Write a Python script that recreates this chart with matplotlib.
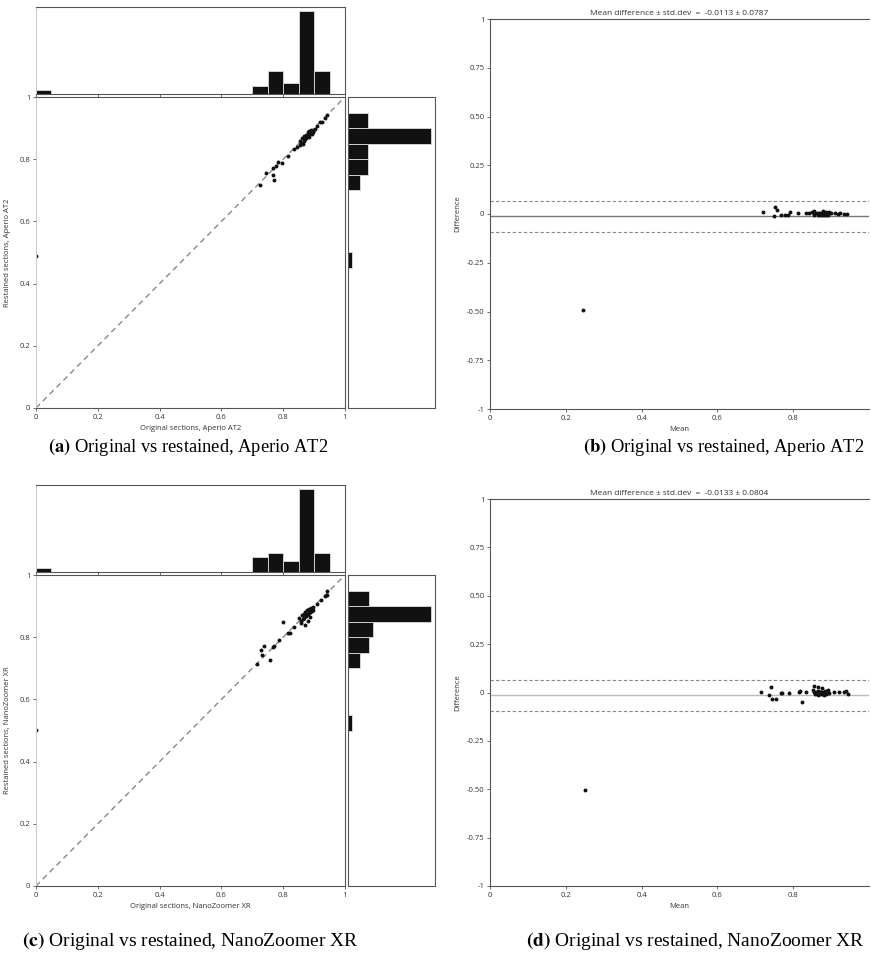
import numpy as np
import matplotlib
matplotlib.use("Agg")
import matplotlib.pyplot as plt

plt.rcParams['font.family'] = ['Open Sans', 'DejaVu Sans']
plt.rcParams['mathtext.fontset'] = 'stix'

# original (x) vs restained (y) scores, Aperio AT2
aperio_orig = [0.0, 0.724, 0.745, 0.770, 0.768, 0.766, 0.776, 0.784, 0.797,
               0.815, 0.836, 0.846, 0.855, 0.864,
               0.853, 0.858, 0.862, 0.866, 0.868, 0.871, 0.873, 0.875, 0.877, 0.879,
               0.880, 0.882, 0.884, 0.885, 0.887, 0.889, 0.891, 0.893, 0.895, 0.898,
               0.904, 0.911, 0.918, 0.926, 0.936, 0.943]
aperio_rest = [0.49, 0.716, 0.756, 0.732, 0.748, 0.772, 0.779, 0.790, 0.787,
               0.811, 0.833, 0.840, 0.846, 0.848,
               0.858, 0.852, 0.867, 0.859, 0.874, 0.864, 0.879, 0.869, 0.873, 0.886,
               0.875, 0.879, 0.890, 0.872, 0.883, 0.893, 0.886, 0.881, 0.892, 0.889,
               0.897, 0.908, 0.920, 0.921, 0.934, 0.942]

# original (x) vs restained (y) scores, NanoZoomer XR
nano_orig = [0.0, 0.716, 0.727, 0.730, 0.738, 0.757, 0.766, 0.770, 0.788, 0.798,
             0.817, 0.821, 0.836, 0.872, 0.858,
             0.852, 0.856, 0.860, 0.863, 0.866, 0.868, 0.870, 0.873, 0.875, 0.877,
             0.879, 0.880, 0.882, 0.884, 0.886, 0.888, 0.890, 0.892, 0.895, 0.898,
             0.908, 0.922, 0.935, 0.943, 0.941]
nano_rest = [0.502, 0.715, 0.759, 0.744, 0.772, 0.727, 0.770, 0.773, 0.790, 0.849,
             0.812, 0.815, 0.833, 0.839, 0.846,
             0.861, 0.852, 0.871, 0.858, 0.876, 0.862, 0.880, 0.868, 0.872, 0.888,
             0.874, 0.851, 0.878, 0.890, 0.864, 0.882, 0.893, 0.884, 0.896, 0.887,
             0.906, 0.919, 0.931, 0.936, 0.947]

mean_diff = [-0.0113, -0.0133]
sd_diff = [0.0787, 0.0804]
scanners = ['Aperio AT2', 'NanoZoomer XR']
captions = ['(a)', '(b)', '(c)', '(d)']

W, H = 871, 956
fig = plt.figure(figsize=(W / 100, H / 100), dpi=100)


def rect(x0, y0, x1, y1):
    return [x0 / W, 1 - y1 / H, (x1 - x0) / W, (y1 - y0) / H]


def style_spines(ax, left='#cccccc'):
    for s in ax.spines.values():
        s.set_color('#555555')
        s.set_linewidth(0.8)
    ax.spines['left'].set_color(left)
    ax.tick_params(colors='#555555', labelcolor='#333333', labelsize=5.5,
                   length=2, width=0.6, pad=2)


bins = np.linspace(0, 1, 21)
ticks = [0, 0.2, 0.4, 0.6, 0.8, 1]
tick_lbl = ['0', '0.2', '0.4', '0.6', '0.8', '1']


def joint_panel(x, y, top, name):
    ax_top = fig.add_axes(rect(36, top, 345, top + 87))
    ax = fig.add_axes(rect(36, top + 90, 345, top + 401))
    ax_r = fig.add_axes(rect(348, top + 90, 435, top + 401))

    ax.plot([0, 1], [0, 1], color='#888888', lw=1, ls=(0, (4, 3)), zorder=1)
    ax.scatter(x, y, s=8, color='#111111', zorder=2, linewidths=0)
    ax.set_xlim(0, 1)
    ax.set_ylim(0, 1)
    ax.set_xticks(ticks, tick_lbl)
    ax.set_yticks(ticks, tick_lbl)
    ax.set_xlabel('Original sections, ' + name, fontsize=5.5, color='#333333', labelpad=3)
    ax.set_ylabel('Restained sections, ' + name, fontsize=5.5, color='#333333', labelpad=6)
    style_spines(ax)

    cx, _ = np.histogram(x, bins)
    ax_top.hist(x, bins=bins, color='#111111', edgecolor='#dddddd', linewidth=0.6)
    ax_top.set_xlim(0, 1)
    ax_top.set_ylim(0, cx.max() * 1.05)
    ax_top.set_xticks(ticks, [])
    ax_top.set_yticks([])
    style_spines(ax_top)

    cy, _ = np.histogram(y, bins)
    ax_r.hist(y, bins=bins, orientation='horizontal', color='#111111',
              edgecolor='#dddddd', linewidth=0.6)
    ax_r.set_ylim(0, 1)
    ax_r.set_xlim(0, cy.max() * 1.05)
    ax_r.set_xticks([])
    ax_r.set_yticks([])
    style_spines(ax_r, left='#555555')


def bland_altman(x, y, top, bottom, md, sd, mean_col):
    ax = fig.add_axes(rect(490, top, 869, bottom))
    x = np.array(x)
    y = np.array(y)
    m = (x + y) / 2
    d = x - y
    ax.axhline(md, color=mean_col, lw=1, zorder=1)
    ax.axhline(md + sd, color='#888888', lw=0.8, ls=(0, (3, 2)), zorder=1)
    ax.axhline(md - sd, color='#888888', lw=0.8, ls=(0, (3, 2)), zorder=1)
    ax.scatter(m, d, s=8, color='#111111', zorder=2, linewidths=0)
    ax.set_xlim(0, 1)
    ax.set_ylim(-1, 1)
    ax.set_xticks([0, 0.2, 0.4, 0.6, 0.8], ['0', '0.2', '0.4', '0.6', '0.8'])
    ax.set_yticks([-1, -0.75, -0.5, -0.25, 0, 0.25, 0.5, 0.75, 1],
                  ['-1', '-0.75', '-0.50', '-0.25', '0', '0.25', '0.50', '0.75', '1'])
    ax.set_xlabel('Mean', fontsize=5.5, color='#333333', labelpad=3)
    ax.set_ylabel('Difference', fontsize=5.5, color='#333333', labelpad=4)
    ax.set_title('Mean difference \u00b1 std.dev  =  %.4f \u00b1 %.4f' % (md, sd),
                 fontsize=6, color='#333333', pad=3)
    style_spines(ax, left='#555555')
    ax.spines['right'].set_visible(False)


joint_panel(aperio_orig, aperio_rest, 7, scanners[0])
bland_altman(aperio_orig, aperio_rest, 19, 409, mean_diff[0], sd_diff[0], '#777777')
joint_panel(nano_orig, nano_rest, 485, scanners[1])
bland_altman(nano_orig, nano_rest, 499, 886, mean_diff[1], sd_diff[1], '#bbbbbb')

cap_pos = [(48, 452, 13.3), (583, 452, 13.3), (22, 946, 14.0), (526, 946, 14.0)]
for i, (cx, cy, fs) in enumerate(cap_pos):
    fig.text(cx / W, 1 - cy / H,
             r'$\mathbf{' + captions[i] + '}$ Original vs restained, ' + scanners[i // 2],
             family='Liberation Serif', fontsize=fs, ha='left', va='baseline')

fig.savefig('out.png', dpi=100)
